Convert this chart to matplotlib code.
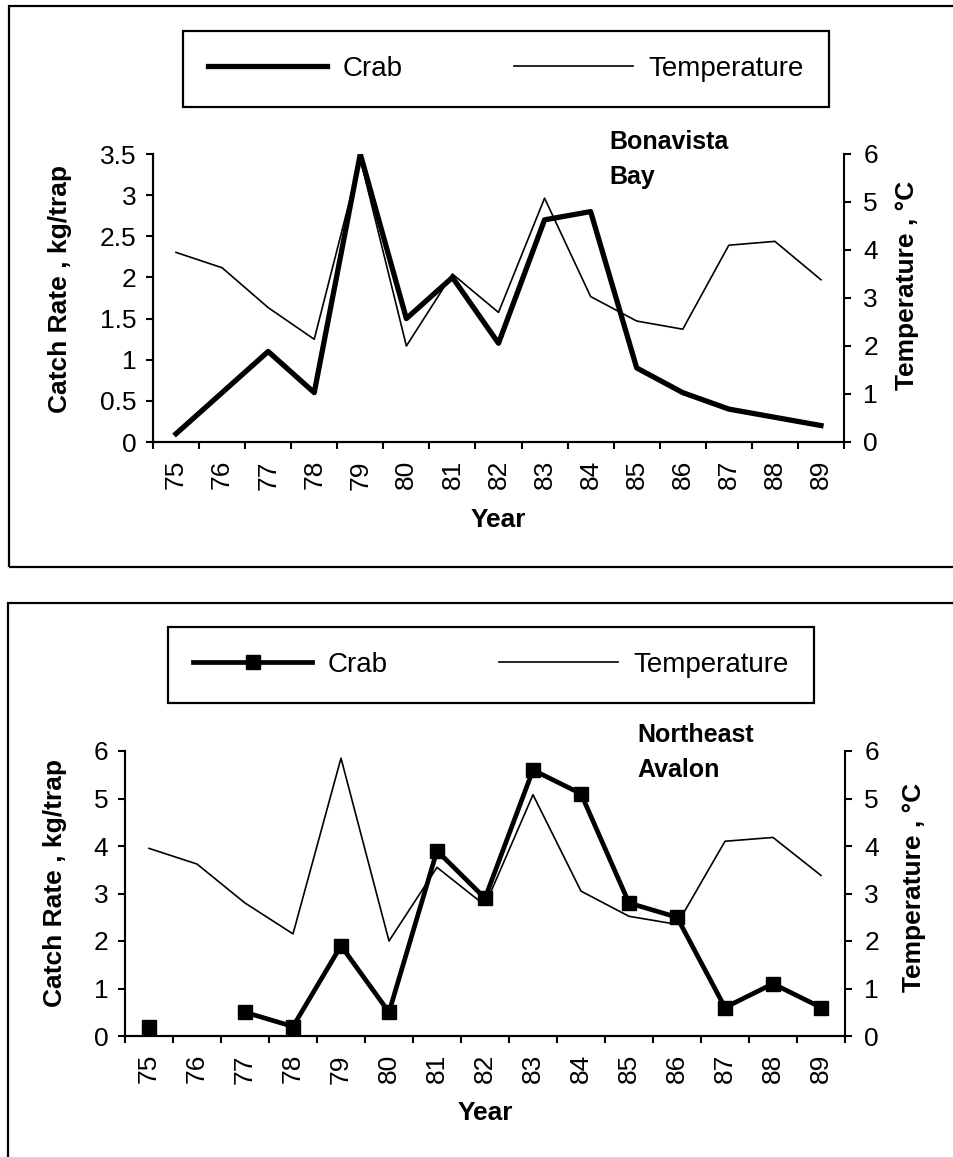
import matplotlib.pyplot as plt
import matplotlib.patches as mpatches
import numpy as np

plt.rcParams['font.family'] = ['Liberation Sans', 'DejaVu Sans']

years = ['75', '76', '77', '78', '79', '80', '81', '82', '83', '84', '85', '86', '87', '88', '89']

# Bonavista Bay
crab_bonavista = [0.1, 0.6, 1.1, 0.6, 3.5, 1.5, 2.0, 1.2, 2.7, 2.8, 0.9, 0.6, 0.4, 0.3, 0.2]
temp_bonavista = [3.95, 3.63, 2.8, 2.14, 5.9, 2.0, 3.5, 2.7, 5.08, 3.03, 2.52, 2.35, 4.1, 4.18, 3.38]

# Northeast Avalon (76 missing)
crab_avalon = [0.2, np.nan, 0.5, 0.2, 1.9, 0.5, 3.9, 2.9, 5.6, 5.1, 2.8, 2.5, 0.6, 1.1, 0.6]
temp_avalon = [3.95, 3.62, 2.8, 2.15, 5.85, 2.0, 3.55, 2.75, 5.08, 3.05, 2.52, 2.35, 4.1, 4.18, 3.38]

W, H = 954, 1157
fig = plt.figure(figsize=(W/100, H/100), dpi=100)

def fx(px): return px / W
def fy(py): return 1 - py / H

TICK_FS = 19
LAB_FS = 19
LEG_FS = 20


def panel(ax_px, crab, temp, ymax, yticks, ylabels, marker, region, region_xy,
          leg_px, ylab_coords, rlab_coords):
    x0, x1, y0, y1 = ax_px  # left, right, top, bottom in pixels
    ax = fig.add_axes([fx(x0), fy(y1), fx(x1) - fx(x0), fy(y0) - fy(y1)])
    ax2 = ax.twinx()
    x = np.arange(len(years))

    l_temp, = ax2.plot(x, temp, color='black', lw=1.2)
    ax.set_zorder(ax2.get_zorder() + 1)
    ax.patch.set_visible(False)
    if marker:
        l_crab, = ax.plot(x, crab, color='black', lw=3.4, marker='s', markersize=10,
                          solid_joinstyle='miter')
    else:
        l_crab, = ax.plot(x, crab, color='black', lw=3.8)

    ax.set_xlim(-0.5, len(years) - 0.5)
    ax.set_ylim(0, ymax)
    ax2.set_ylim(0, 6)
    ax.set_yticks(yticks)
    ax.set_yticklabels(ylabels)
    ax2.set_yticks(range(7))
    ax.set_xticks(x)
    ax.set_xticklabels(years, rotation=90)
    ax.set_xticks(np.arange(-0.5, len(years)), minor=True)
    ax.tick_params(axis='x', which='major', length=0, pad=13, labelsize=TICK_FS)
    ax.tick_params(axis='x', which='minor', length=5, width=1.5, direction='out')
    ax.tick_params(axis='y', length=5, width=1.5, pad=7, labelsize=TICK_FS)
    ax2.tick_params(axis='y', length=5, width=1.5, pad=9, labelsize=TICK_FS)

    for a in (ax, ax2):
        a.spines['top'].set_visible(False)
        for s in ('left', 'right', 'bottom'):
            a.spines[s].set_linewidth(1.5)
    ax.spines['right'].set_visible(False)

    ax.set_ylabel('Catch Rate , kg/trap', fontsize=LAB_FS, fontweight='bold', va='center')
    ax.yaxis.set_label_coords(*ylab_coords)
    ax2.set_ylabel('Temperature , \u00b0C', fontsize=LAB_FS, fontweight='bold',
                   va='center', rotation=90)
    ax2.yaxis.set_label_coords(*rlab_coords)
    ax.set_xlabel('Year', fontsize=LAB_FS, fontweight='bold', va='center')
    ax.xaxis.set_label_coords(0.5, -0.27)

    ax.text(region_xy[0], region_xy[1], region, transform=ax.transAxes,
            fontsize=18, fontweight='bold', ha='left', va='center', linespacing=1.55)

    lx0, lx1, ly0, ly1 = leg_px
    leg = fig.legend([l_crab, l_temp], ['Crab', 'Temperature'], loc='center',
                     bbox_to_anchor=(fx(lx0), fy(ly1), fx(lx1) - fx(lx0), fy(ly0) - fy(ly1)),
                     mode='expand', ncol=2, fontsize=LEG_FS, frameon=True, fancybox=False,
                     edgecolor='black', framealpha=1, borderaxespad=0, borderpad=0.9,
                     handlelength=4.3, handletextpad=0.55)
    leg.get_frame().set_linewidth(1.6)
    return ax


# outer frames
fig.patches.append(mpatches.Rectangle((fx(9), fy(567)), 1.2, fy(6) - fy(567),
                                      transform=fig.transFigure, fill=False,
                                      lw=1.6, edgecolor='black'))
fig.patches.append(mpatches.Rectangle((fx(8), -0.2), 1.2, fy(603) + 0.2,
                                      transform=fig.transFigure, fill=False,
                                      lw=1.6, edgecolor='black'))

panel((153, 844, 154, 442), crab_bonavista, temp_bonavista, 3.5,
      [0, 0.5, 1, 1.5, 2, 2.5, 3, 3.5], ['0', '0.5', '1', '1.5', '2', '2.5', '3', '3.5'],
      False, 'Bonavista\nBay', (0.661, 0.981), (183, 829, 29, 109),
      (-0.135, 0.531), (1.091, 0.543))

panel((125, 845, 751, 1036), crab_avalon, temp_avalon, 6,
      range(7), [str(i) for i in range(7)],
      True, 'Northeast\nAvalon', (0.711, 0.995), (168, 814, 624, 706),
      (-0.097, 0.537), (1.096, 0.52))

fig.savefig('out.png', dpi=100)
